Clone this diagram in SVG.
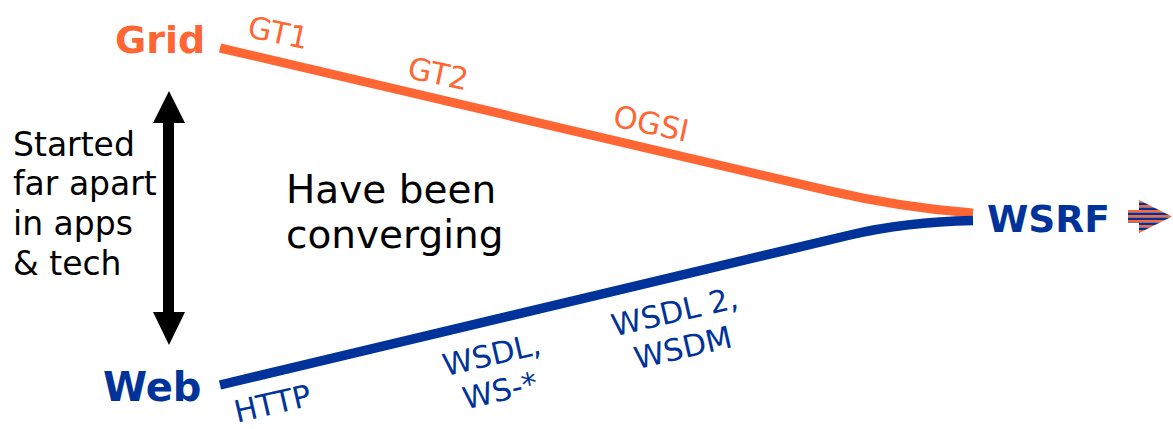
<svg xmlns="http://www.w3.org/2000/svg" width="1173" height="429" viewBox="0 0 1173 429">
<style>
text{font-family:"DejaVu Sans","Verdana","Liberation Sans",sans-serif}
.big{font-weight:bold}
.or{fill:#FF6633}
.bl{fill:#003399}
.lab{font-size:30.5px;text-anchor:middle}
.blk{fill:#000000}
</style>
<defs>
<pattern id="stripes" patternUnits="userSpaceOnUse" x="0" y="200" width="10" height="5">
<rect x="0" y="0" width="10" height="2.5" fill="#FF6633"/>
<rect x="0" y="2.5" width="10" height="2.5" fill="#003399"/>
</pattern>
</defs>
<rect width="1173" height="429" fill="#FFFFFF"/>
<g id="connectors">
<path id="grid-line" d="M220,48 L830,191 Q900,207.5 973,213" fill="none" stroke="#FF6633" stroke-width="9"/>
<path id="web-line" d="M220,385 L850,235 Q905,222 973,220.5" fill="none" stroke="#003399" stroke-width="9.5"/>
<path id="apart-arrow" d="M163,123 L153,123 L169,91 L185,123 L174,123 L174,312 L185,312 L169,345 L153,312 L163,312 Z" fill="#000000"/>
</g>
<g id="grid">
<text class="big or" x="115" y="53" font-size="38">Grid</text>
</g>
<g id="web">
<text class="big bl" x="103" y="401" font-size="40">Web</text>
</g>
<g id="wsrf">
<text class="big bl" x="987" y="232" font-size="37.5">WSRF</text>
<path d="M1128,210 L1139,210 L1139,200 L1172,216.5 L1139,233 L1139,223 L1128,223 Z" fill="url(#stripes)"/>
</g>
<g id="grid-labels">
<text class="lab or" transform="translate(276,43) rotate(12)">GT1</text>
<text class="lab or" transform="translate(436,84) rotate(12)">GT2</text>
<text class="lab or" transform="translate(649,134) rotate(12)">OGSI</text>
</g>
<g id="web-labels">
<text class="lab bl" transform="translate(275,414) rotate(-13)">HTTP</text>
<text class="lab bl" transform="translate(494,365) rotate(-13)"><tspan x="0" y="0">WSDL,</tspan><tspan x="0" y="37">WS-*</tspan></text>
<text class="lab bl" transform="translate(677,322) rotate(-13)"><tspan x="0" y="0">WSDL 2,</tspan><tspan x="0" y="37">WSDM</tspan></text>
</g>
<g id="notes">
<text class="blk" font-size="33"><tspan x="13" y="156">Started</tspan><tspan x="13" y="195">far apart</tspan><tspan x="13" y="235">in apps</tspan><tspan x="13" y="275">&amp; tech</tspan></text>
<text class="blk" font-size="39"><tspan x="286" y="203">Have been</tspan><tspan x="286" y="248">converging</tspan></text>
</g>
</svg>
